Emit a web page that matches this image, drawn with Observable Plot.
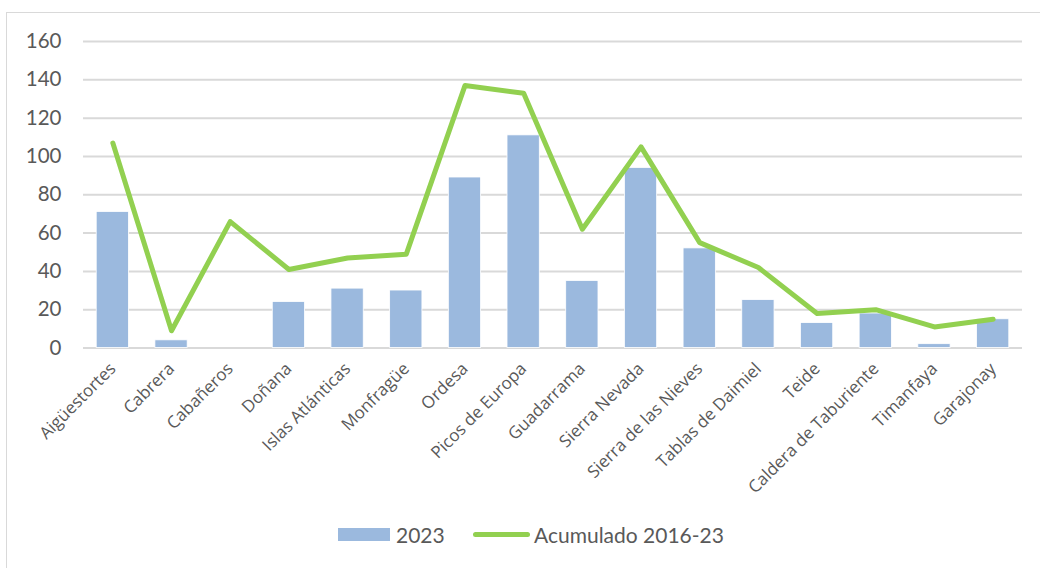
<!DOCTYPE html>
<html>
<head>
<meta charset="utf-8">
<script src="https://cdn.jsdelivr.net/npm/d3@7"></script>
<script src="https://cdn.jsdelivr.net/npm/@observablehq/plot@0.6"></script>
<style>
  html, body { margin: 0; padding: 0; background: #fff; }
  body { width: 1040px; height: 568px; position: relative; overflow: hidden; }
  #frame { position: absolute; left: 6px; top: 12px; width: 1100px; height: 600px; border: 1.5px solid #d9d9d9; box-sizing: border-box; }
  #chart { position: absolute; left: 0; top: 0; }
  #legend { position: absolute; top: 518px; left: 0; width: 1040px; height: 32px; font-family: Lato, "Liberation Sans", sans-serif; font-size: 21px; color: #595959; }
  .item { position: absolute; top: 0; display: flex; align-items: center; height: 32px; }
  .sw-bar { width: 52px; height: 13px; background: #9bb9de; margin-right: 6px; }
  .sw-line { width: 57px; height: 5px; border-radius: 3px; background: #92d050; margin-right: 4px; }
</style>
</head>
<body>
<div id="frame"></div>
<div id="chart"></div>
<div id="legend">
  <div class="item" style="left:338px"><div class="sw-bar"></div><span>2023</span></div>
  <div class="item" style="left:473px"><div class="sw-line"></div><span>Acumulado 2016-23</span></div>
</div>
<script>
const parques = ["Aigüestortes", "Cabrera", "Cabañeros", "Doñana", "Islas Atlánticas", "Monfragüe", "Ordesa", "Picos de Europa", "Guadarrama", "Sierra Nevada", "Sierra de las Nieves", "Tablas de Daimiel", "Teide", "Caldera de Taburiente", "Timanfaya", "Garajonay"];
const valores2023 = [71, 4, 0, 24, 31, 30, 89, 111, 35, 94, 52, 25, 13, 18, 2, 15];
const acumulado = [107, 9, 66, 41, 47, 49, 137, 133, 62, 105, 55, 42, 18, 20, 11, 15];
const yTicks = [0, 20, 40, 60, 80, 100, 120, 140, 160];

const data = parques.map((p, i) => ({parque: p, v2023: valores2023[i], acum: acumulado[i]}));

const chart = Plot.plot({
  width: 1040,
  height: 500,
  marginTop: 41,
  marginBottom: 152.5,
  marginLeft: 83,
  marginRight: 18,
  style: {background: "transparent", color: "#595959"},
  x: {domain: parques, paddingInner: 0.45, paddingOuter: 0.225, round: false, label: null},
  y: {domain: [0, 160], label: null},
  marks: [
    Plot.gridY(yTicks, {stroke: "#d9d9d9", strokeOpacity: 1, strokeWidth: 2}),
    Plot.axisY({ticks: yTicks, tickSize: 0, tickPadding: 22, fontSize: 20.5, fontFamily: "Lato, 'Liberation Sans', sans-serif", fill: "#595959", label: null}),
    Plot.barY(data, {x: "parque", y: "v2023", fill: "#9bb9de", stroke: "#ffffff", strokeWidth: 0.8}),
    Plot.lineY(data, {x: "parque", y: "acum", stroke: "#92d050", strokeWidth: 5, strokeLinejoin: "round", strokeLinecap: "round"}),
    Plot.axisX({tickSize: 0, tickPadding: 18, tickRotate: -45, fontSize: 17, fontFamily: "'Open Sans', sans-serif", fill: "#595959", label: null})
  ]
});
d3.select(chart).selectAll('g[aria-label="x-axis tick label"]').style("font-family", "'Open Sans', sans-serif").style("font-size", "17px");
document.getElementById("chart").appendChild(chart);
</script>
</body>
</html>
